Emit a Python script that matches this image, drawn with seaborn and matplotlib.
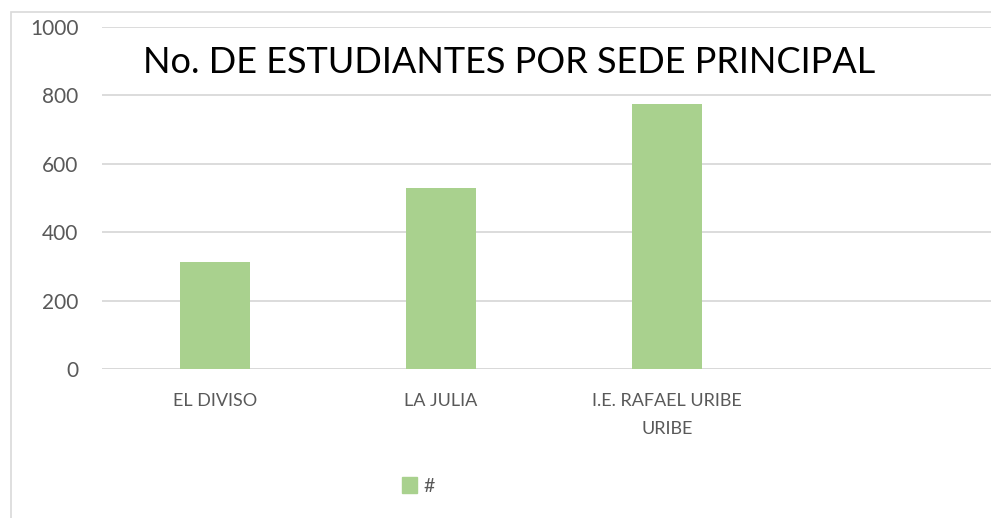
import matplotlib.pyplot as plt
import matplotlib.patheffects as pe
from matplotlib.patches import Rectangle
import seaborn as sns

# datos
sedes = ['EL DIVISO', 'LA JULIA', 'I.E. RAFAEL URIBE\nURIBE']
estudiantes = [314, 528, 775]
y_ticks = [0, 200, 400, 600, 800, 1000]
titulo = 'No. DE ESTUDIANTES POR SEDE PRINCIPAL'

verde = '#A9D18E'
gris_txt = '#595959'
gris_linea = '#D9D9D9'

sns.set_style('white')
plt.rcParams['font.family'] = ['Lato', 'DejaVu Sans']

fig = plt.figure(figsize=(9.91, 5.18), dpi=100)
ax = fig.add_axes([102 / 991, 0.2871, 904 / 991, 0.6614])

sns.barplot(x=sedes, y=estudiantes, color=verde, width=0.314, ax=ax,
            saturation=1, edgecolor='none')
for p in ax.patches:
    p.set_path_effects([pe.SimplePatchShadow(offset=(0, -1.5), shadow_rgbFace='#7f7f7f', alpha=0.35),
                        pe.Normal()])

ax.set_xlim(-0.5, 3.5)
ax.set_ylim(0, 1000)
ax.set_yticks(y_ticks)
ax.yaxis.grid(True, color=gris_linea, lw=1.3)
ax.set_axisbelow(True)
for s in ax.spines.values():
    s.set_visible(False)
ax.axhline(0, color=gris_linea, lw=1.3, zorder=0.5)

ax.tick_params(axis='both', length=0, labelcolor=gris_txt)
ax.tick_params(axis='y', pad=17, labelsize=15)
ax.tick_params(axis='x', pad=17, labelsize=13)
for t in ax.get_xticklabels():
    t.set_linespacing(1.95)
ax.set_xlabel('')
ax.set_ylabel('')

fig.text(509 / 991, (518 - 73) / 518, titulo, ha='center', va='baseline',
         fontsize=26, color='black')

handle = Rectangle((0, 0), 1, 1, color=verde)
fig.legend([handle], ['#'], loc='center', bbox_to_anchor=(418 / 991, (518 - 486) / 518),
           frameon=False, fontsize=14, labelcolor=gris_txt, handlelength=0.8,
           handleheight=0.9, handletextpad=0.3)

fig.patches.append(Rectangle((11 / 991, -0.1), 1.1, 506 / 518 + 0.1, transform=fig.transFigure,
                             fill=False, edgecolor=gris_linea, lw=1.2))

fig.savefig('out.png', dpi=100)
